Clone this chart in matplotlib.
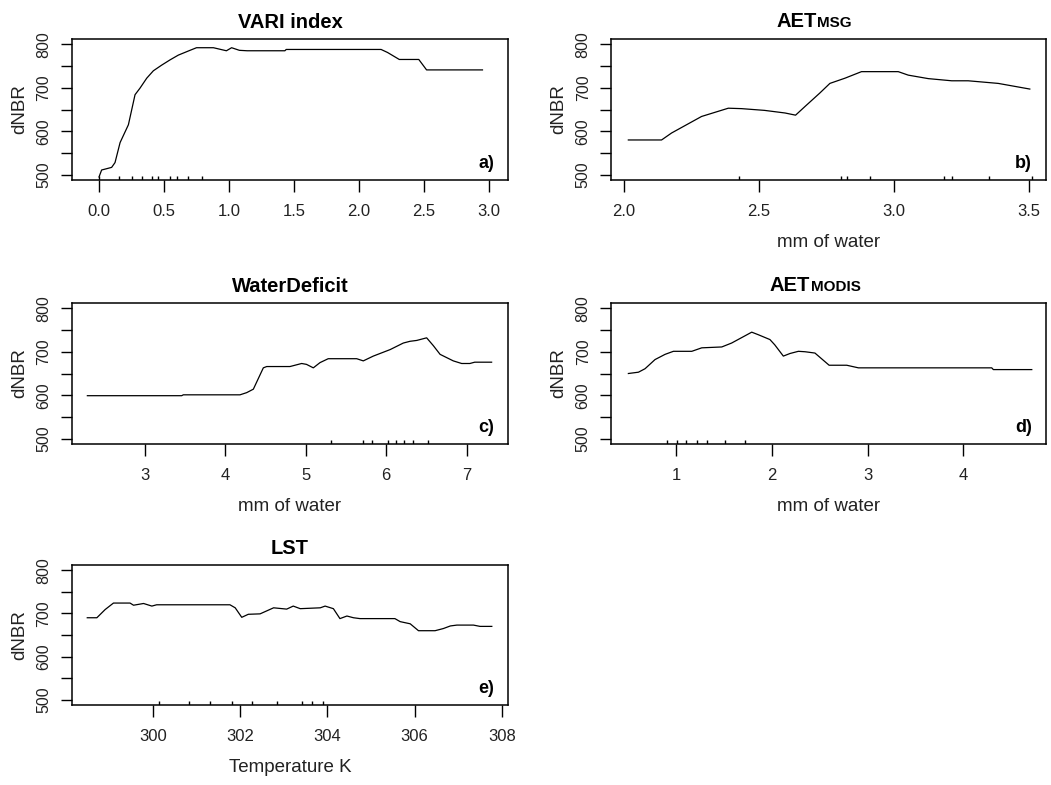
import matplotlib.pyplot as plt

plt.rcParams['font.family'] = ['Liberation Sans', 'DejaVu Sans']

# a) VARI index
vari_x = [0.0, 0.02, 0.059, 0.097, 0.123, 0.162, 0.226, 0.277, 0.315, 0.367, 0.418,
          0.482, 0.546, 0.61, 0.70, 0.75, 0.88, 0.98, 1.02, 1.08, 1.14, 1.43, 1.44,
          2.17, 2.22, 2.31, 2.46, 2.52, 2.95]
vari_y = [495, 511, 514, 517, 528, 574, 615, 684, 699, 722, 739,
          752, 764, 775, 786, 792, 792, 785, 792, 786, 785, 785, 788,
          788, 781, 765, 765, 741, 741]
vari_rug = [0.0, 0.154, 0.25, 0.33, 0.405, 0.45, 0.546, 0.6, 0.685, 0.79]

# b) AET MSG
msg_x = [2.016, 2.139, 2.176, 2.287, 2.386, 2.435, 2.52, 2.596, 2.635, 2.67, 2.725,
         2.762, 2.818, 2.879, 3.015, 3.052, 3.126, 3.213, 3.274, 3.385, 3.502]
msg_y = [580, 580, 596, 634, 653, 652, 648, 642, 637, 657, 688,
         710, 722, 737, 737, 729, 721, 716, 716, 710, 697]
msg_rug = [2.426, 2.803, 2.824, 2.91, 3.185, 3.213, 3.352, 3.511]

# c) WaterDeficit
wd_x = [2.288, 3.46, 3.48, 4.184, 4.267, 4.35, 4.474, 4.516, 4.805, 4.95, 5.01,
        5.095, 5.178, 5.28, 5.634, 5.716, 5.84, 6.05, 6.213, 6.296, 6.38, 6.503,
        6.586, 6.67, 6.834, 6.938, 7.04, 7.1, 7.31]
wd_y = [599, 599, 601, 601, 606, 614, 663, 666, 666, 673, 671,
        663, 675, 684, 684, 679, 690, 705, 720, 724, 726, 732,
        714, 694, 679, 673, 673, 676, 676]
wd_rug = [5.314, 5.716, 5.82, 6.026, 6.122, 6.221, 6.337, 6.516]

# d) AET MODIS
modis_x = [0.502, 0.607, 0.676, 0.78, 0.885, 0.972, 1.164, 1.268, 1.477, 1.58, 1.79,
           1.86, 1.98, 2.03, 2.12, 2.19, 2.277, 2.347, 2.45, 2.598, 2.782, 2.904,
           4.296, 4.313, 4.714]
modis_y = [650, 653, 661, 682, 694, 701, 701, 709, 711, 720, 745,
           739, 728, 716, 690, 696, 701, 700, 697, 669, 669, 663,
           663, 659, 659]
modis_rug = [0.909, 1.007, 1.104, 1.222, 1.32, 1.512, 1.72]

# e) LST
lst_x = [298.5, 298.72, 298.91, 299.1, 299.48, 299.56, 299.79, 299.98, 300.09, 301.77,
         301.89, 302.04, 302.19, 302.46, 302.77, 303.07, 303.22, 303.38, 303.84, 303.95,
         304.14, 304.29, 304.45, 304.6, 304.75, 305.55, 305.67, 305.9, 306.09, 306.47,
         306.66, 306.82, 306.97, 307.35, 307.5, 307.77]
lst_y = [690, 690, 709, 724, 724, 719, 723, 717, 720, 720,
         713, 691, 698, 699, 713, 710, 717, 711, 713, 717,
         711, 688, 694, 690, 688, 688, 681, 676, 660, 660,
         665, 671, 673, 673, 670, 670]
lst_rug = [300.14, 300.82, 301.32, 301.82, 302.28, 302.84, 303.42, 303.66, 303.91]

y_ticks = [500, 550, 600, 650, 700, 750, 800]
y_labels = ['500', '', '600', '', '700', '', '800']

txt = '#222222'

fig = plt.figure(figsize=(10.51, 7.85), dpi=100)


def panel(rect, x, y, rug, xlim, xticks, xlabels, letter, xlabel=None, title=None):
    ax = fig.add_axes(rect)
    ax.plot(x, y, color='black', lw=0.9)
    ax.vlines(rug, 0, 0.03, color='black', lw=1.0, transform=ax.get_xaxis_transform())
    ax.set_xlim(xlim)
    ax.set_ylim(488, 812)
    ax.set_xticks(xticks)
    ax.set_xticklabels(xlabels)
    ax.set_yticks(y_ticks)
    ax.set_yticklabels(y_labels)
    ax.tick_params(axis='x', length=8.5, width=1.0, pad=8.5, labelsize=12, labelcolor=txt)
    ax.tick_params(axis='y', length=7.7, width=1.0, pad=7, labelsize=11.5, labelcolor=txt,
                   labelrotation=90)
    plt.setp(ax.get_yticklabels(), va='center')
    for s in ax.spines.values():
        s.set_linewidth(1.1)
    ax.set_ylabel('dNBR', fontsize=13.5, color=txt)
    ax.yaxis.set_label_coords(-0.1, 0.5)
    if xlabel:
        ax.set_xlabel(xlabel, fontsize=13.5, color=txt, va='top')
        ax.xaxis.set_label_coords(0.5, -0.385)
    if title:
        ax.set_title(title, fontsize=14.5, fontweight='bold', pad=8)
    ax.annotate(letter, xy=(1, 0), xycoords='axes fraction', xytext=(-10, 6),
                textcoords='offset points', ha='right', va='bottom',
                fontsize=13, fontweight='bold')
    return ax


def split_title(ax, xpos, big, small):
    # AET with small caps suffix on the same baseline
    ax.annotate(big, xy=(xpos, 1), xycoords='axes fraction', xytext=(0, 9),
                textcoords='offset points', ha='right', va='baseline',
                fontsize=14.5, fontweight='bold')
    ax.annotate(small, xy=(xpos, 1), xycoords='axes fraction', xytext=(0.5, 9),
                textcoords='offset points', ha='left', va='baseline',
                fontsize=11, fontweight='bold')


left1, left2 = 0.0685, 0.5814
w1, w2 = 0.4148, 0.4136
row_b = [0.7707, 0.4344, 0.1019]
h = 0.1796

panel([left1, row_b[0], w1, h], vari_x, vari_y, vari_rug, (-0.208, 3.146),
      [0, 0.5, 1.0, 1.5, 2.0, 2.5, 3.0], ['0.0', '0.5', '1.0', '1.5', '2.0', '2.5', '3.0'],
      'a)', title='VARI index')

ax_b = panel([left2, row_b[0], w2, h], msg_x, msg_y, msg_rug, (1.952, 3.561),
             [2.0, 2.5, 3.0, 3.5], ['2.0', '2.5', '3.0', '3.5'], 'b)', xlabel='mm of water')
split_title(ax_b, 0.473, 'AET', 'MSG')

panel([left1, row_b[1], w1, h], wd_x, wd_y, wd_rug, (2.097, 7.513),
      [3, 4, 5, 6, 7], ['3', '4', '5', '6', '7'], 'c)', xlabel='mm of water',
      title='WaterDeficit')

ax_d = panel([left2, row_b[1], w2, h], modis_x, modis_y, modis_rug, (0.321, 4.86),
             [1, 2, 3, 4], ['1', '2', '3', '4'], 'd)', xlabel='mm of water')
split_title(ax_d, 0.458, 'AET', 'MODIS')

panel([left1, row_b[2], w1, 0.1783], lst_x, lst_y, lst_rug, (298.15, 308.14),
      [300, 302, 304, 306, 308], ['300', '302', '304', '306', '308'], 'e)',
      xlabel='Temperature K', title='LST')

fig.savefig('out.png', dpi=100)
